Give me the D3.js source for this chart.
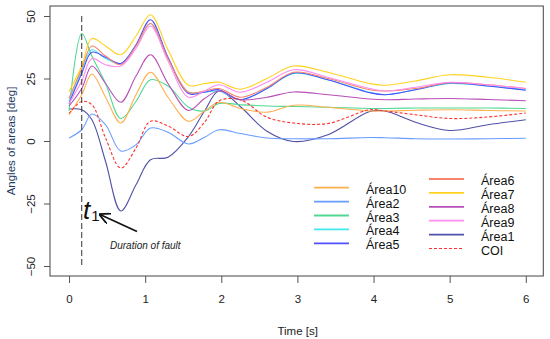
<!DOCTYPE html>
<html>
<head>
<meta charset="utf-8">
<title>Angles of areas</title>
<script src="https://d3js.org/d3.v7.min.js"></script>
<style>
  body { margin: 0; background: #fff; }
  text { font-family: "Liberation Sans", Arial, sans-serif; }
  .box { fill: none; stroke: #444; stroke-width: 1; }
  .curve { fill: none; }
</style>
</head>
<body>
<script>
// time grid [s]
var time   = [0, 0.167, 0.3, 0.48, 0.68, 0.88, 1.07, 1.3, 1.57, 1.78, 1.97, 2.25, 2.6, 2.95, 3.4, 3.95, 4.15, 4.55, 5.0, 5.5, 6.0];

// angles [deg]
var area1  = [12.8, 12.5, 8.5, -8.2, -28, -17.5, -7.5, -6.5, 1.8, 12, 20, 13.8, 3.9, -0.2, 2.5, 11.8, 12, 7.5, 4.2, 6.5, 8.5];
var area2  = [1.2, 4.5, 10.8, 6.5, -4, -1.5, 5.2, 3.5, -1.2, 1.5, 4.5, 3, 1.2, 0.9, 0.9, 1.4, 1.3, 0.9, 0.8, 0.9, 1.1];
var area3  = [12, 43, 34, 23, 9, 15.8, 24.5, 22, 13.5, 12, 15, 14.5, 14, 13.8, 13.5, 13, 13, 13.2, 13.2, 13.2, 13];
var area4  = [16, 28, 36.5, 33, 31, 38, 47, 33, 19.5, 19.5, 20, 16.5, 21, 27, 24.5, 19.5, 18.5, 20.5, 23, 22, 20.5];
var area5  = [15, 27, 35.5, 33.5, 31, 38.5, 48.5, 33.5, 19, 19.5, 20.5, 16.5, 21, 27.2, 24.5, 19.3, 18.5, 20.5, 23.2, 22, 20.3];
var area6  = [17, 29, 38, 34, 30.5, 38, 47, 33, 19.5, 20, 21, 17.5, 21.5, 27.5, 25, 20.5, 20, 21, 23.3, 22.5, 21];
var area7  = [19.8, 30, 41, 38, 34.5, 42, 50.5, 36.5, 22.3, 23, 23.5, 20.7, 25, 30, 27.5, 23, 22.3, 24, 26.5, 25.5, 23.5];
var area8  = [14, 21, 30, 23, 15.5, 26, 34.5, 23, 12.2, 17, 20, 16.5, 17.5, 19.6, 18.5, 16.8, 16.5, 16.8, 17, 16.6, 16.1];
var area9  = [15, 24, 33, 30.5, 30, 37, 46, 32, 17.5, 20, 22.5, 19.5, 23.5, 28.5, 25.5, 21, 20, 21.5, 23.5, 22.5, 21];
var area10 = [10.5, 18.5, 26.8, 17.5, 7.2, 18.5, 27.5, 17.5, 7.9, 12, 15.5, 13, 11.5, 14.3, 13.5, 12, 12, 12.3, 12.5, 12.2, 12];
var coi    = [11, 15.8, 14.5, 1.2, -10.8, -2.8, 7.9, 6, 1.8, 7.5, 16, 16.5, 9.5, 7.2, 7, 12.5, 12, 10.5, 9, 9.6, 11.2];

var faultTime = 0.167;
var xTicks = [0, 1, 2, 3, 4, 5, 6];
var yTicks = [-50, -25, 0, 25, 50];

// legend, in the order of the figure
var legendLeft  = ["Área10", "Área2", "Área3", "Área4", "Área5"];
var legendRight = ["Área6", "Área7", "Área8", "Área9", "Área1", "COI"];

var colors = {
  "Área1": "#5050a8", "Área2": "#6a9cff", "Área3": "#50d894", "Área4": "#3eeaf0",
  "Área5": "#5050ff", "Área6": "#f7836a", "Área7": "#ffd21f", "Área8": "#b84fb8",
  "Área9": "#ff8cf0", "Área10": "#ffb04e", "COI": "#ff3030"
};

var series = [
  { name: "Área1", values: area1 }, { name: "Área2", values: area2 },
  { name: "Área3", values: area3 }, { name: "Área4", values: area4 },
  { name: "Área5", values: area5 }, { name: "Área6", values: area6 },
  { name: "Área7", values: area7 }, { name: "Área8", values: area8 },
  { name: "Área9", values: area9 }, { name: "Área10", values: area10 },
  { name: "COI", values: coi }
];

var w = 550, h = 339;
var box = { left: 50, right: 543.3, top: 6, bottom: 276 };

var svg = d3.select("body").append("svg")
    .attr("width", w)
    .attr("height", h);

var x = d3.scaleLinear().domain([-0.25, 6.23]).range([box.left, box.right]);
var y = d3.scaleLinear().domain([-54, 54]).range([box.bottom, box.top]);

// curves
var line = d3.line()
    .x(function(d, i) { return x(time[i]); })
    .y(function(d) { return y(d); })
    .curve(d3.curveCatmullRom.alpha(0.5));

svg.append("g").selectAll("path")
    .data(series)
    .enter().append("path")
    .attr("class", "curve")
    .attr("d", function(d) { return line(d.values); })
    .style("stroke", function(d) { return colors[d.name]; })
    .style("stroke-dasharray", function(d) { return d.name === "COI" ? "3,2" : null; })
    .style("stroke-width", 1.1);

// fault clearing line
svg.append("line")
    .attr("x1", x(faultTime)).attr("x2", x(faultTime))
    .attr("y1", y(50)).attr("y2", y(-50))
    .style("stroke", "#333")
    .style("stroke-width", 1)
    .style("stroke-dasharray", "6,3");

// frame
svg.append("rect")
    .attr("class", "box")
    .attr("x", box.left).attr("y", box.top)
    .attr("width", box.right - box.left)
    .attr("height", box.bottom - box.top);

// axes
var xAxis = svg.append("g")
    .attr("transform", "translate(0," + box.bottom + ")")
    .call(d3.axisBottom(x).tickValues(xTicks).tickSize(7).tickPadding(12).tickFormat(d3.format("d")));
xAxis.select(".domain").remove();
xAxis.selectAll("line").style("stroke", "#555");
xAxis.selectAll("text").style("font-size", "11.5px").style("fill", "#222")
    .style("font-family", "'Liberation Sans', Arial, sans-serif");

var yAxis = svg.append("g")
    .attr("transform", "translate(" + box.left + ",0)")
    .call(d3.axisLeft(y).tickValues(yTicks).tickSize(6).tickFormat(d3.format("d")));
yAxis.select(".domain").remove();
yAxis.selectAll("line").style("stroke", "#555");
yAxis.selectAll("text")
    .attr("x", null).attr("dy", null)
    .attr("transform", "translate(-15,0) rotate(-90)")
    .style("text-anchor", "middle")
    .style("font-size", "11.5px").style("fill", "#222")
    .style("font-family", "'Liberation Sans', Arial, sans-serif");

// axis titles
svg.append("text")
    .attr("x", (box.left + box.right) / 2 + 1).attr("y", 335)
    .style("text-anchor", "middle")
    .style("font-size", "11.5px").style("fill", "#222")
    .text("Time [s]");

svg.append("text")
    .attr("transform", "translate(15," + y(0) + ") rotate(-90)")
    .style("text-anchor", "middle")
    .style("font-size", "11.5px").style("fill", "#1f3a5f")
    .text("Angles of areas [deg]");

// t1 annotation
var t1 = svg.append("text")
    .attr("x", 83).attr("y", 219)
    .style("font-style", "italic")
    .style("font-size", "26px")
    .style("fill", "#111");
t1.append("tspan").text("t");
t1.append("tspan").attr("dx", 1).attr("dy", 2).style("font-size", "15px").style("font-style", "normal").text("1");

svg.append("defs").append("marker")
    .attr("id", "head")
    .attr("viewBox", "0 0 10 10")
    .attr("refX", 9).attr("refY", 5)
    .attr("markerWidth", 7).attr("markerHeight", 7)
    .attr("orient", "auto")
    .append("path")
    .attr("d", "M0,0 L10,5 L0,10")
    .style("fill", "none").style("stroke", "#111").style("stroke-width", 1.6);

svg.append("line")
    .attr("x1", 137).attr("y1", 231.5)
    .attr("x2", 100).attr("y2", 214.5)
    .style("stroke", "#111").style("stroke-width", 1.6)
    .attr("marker-end", "url(#head)");

svg.append("text")
    .attr("x", 110).attr("y", 249)
    .style("font-style", "italic")
    .style("font-size", "10px")
    .style("fill", "#222")
    .text("Duration of fault");

// legend
var rowH = 13.9;
function addLegend(names, lx, ly) {
  var g = svg.append("g").selectAll("g")
      .data(names)
      .enter().append("g")
      .attr("transform", function(d, i) { return "translate(" + lx + "," + (ly + i * rowH) + ")"; });
  g.append("line")
      .attr("x1", 0).attr("x2", 35)
      .style("stroke", function(d) { return colors[d]; })
      .style("stroke-width", function(d) { return d === "COI" ? 1 : 1.8; })
      .style("stroke-dasharray", function(d) { return d === "COI" ? "3,2" : null; });
  g.append("text")
      .attr("x", 52).attr("y", 6)
      .style("font-size", "12.5px")
      .style("fill", "#111")
      .text(function(d) { return d; });
}
addLegend(legendLeft, 314, 187.7);
addLegend(legendRight, 429, 179);
</script>
</body>
</html>
